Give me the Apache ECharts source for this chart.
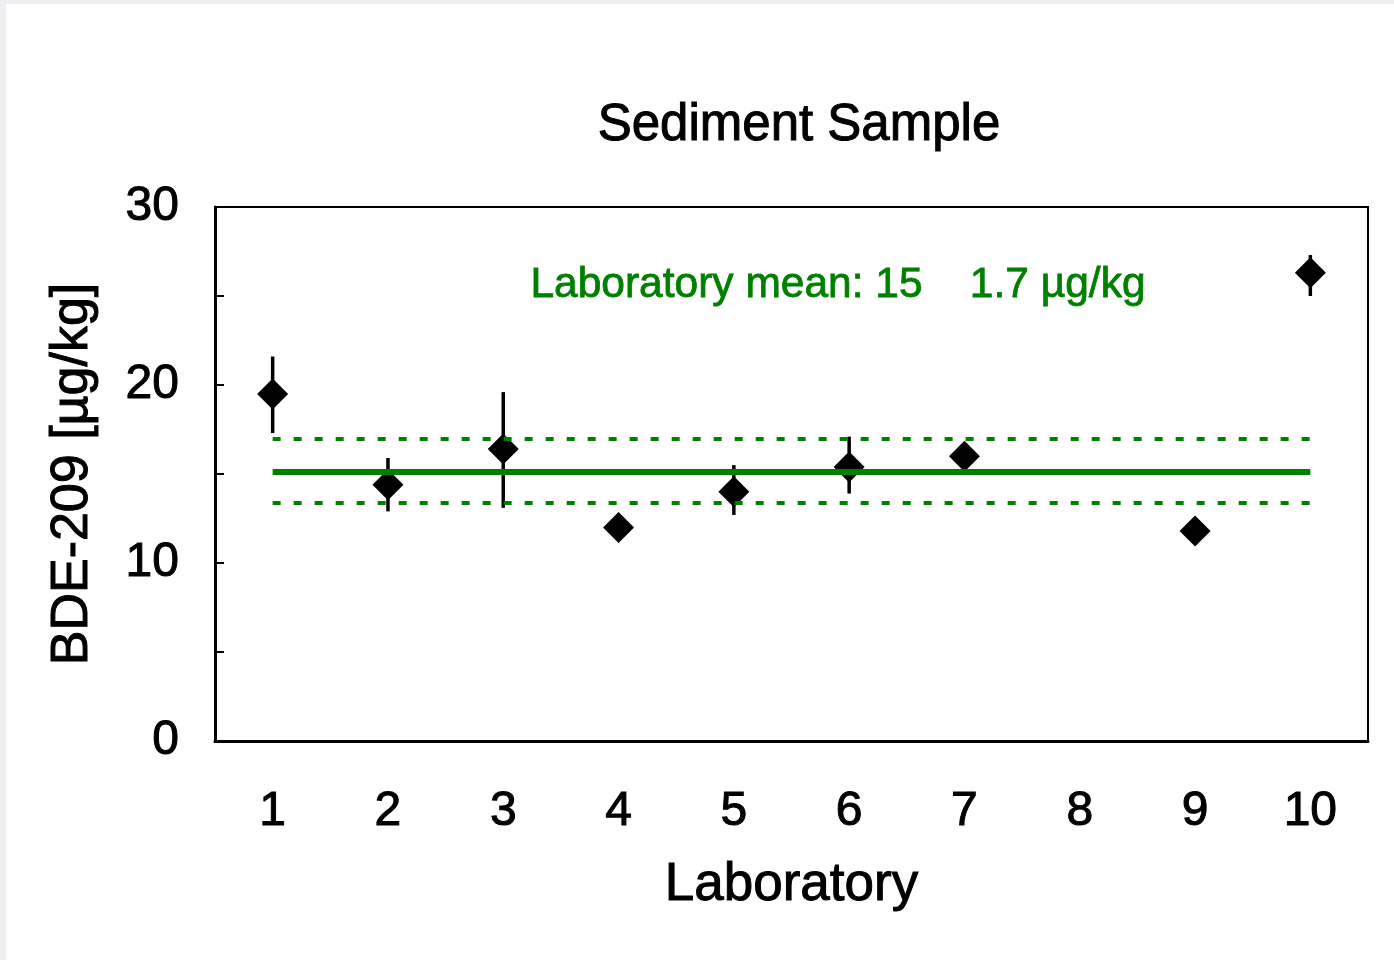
<!DOCTYPE html>
<html>
<head>
<meta charset="utf-8">
<title>Sediment Sample</title>
<script src="https://cdn.jsdelivr.net/npm/echarts@6/dist/echarts.min.js"></script>
<style>
  html, body { margin: 0; padding: 0; background: #eceef2; }
  #chart { position: absolute; left: 6px; top: 4px; width: 1388px; height: 956px; background: #fff; }
</style>
</head>
<body>
<div id="chart"></div>
<script>
// ---------- data ----------
const labs = ['1', '2', '3', '4', '5', '6', '7', '8', '9', '10'];
// lab result (µg/kg), lab 8 reported nothing
const labValues = [19.5, 14.4, 16.4, 12.0, 14.0, 15.4, 16.0, '-', 11.8, 26.3];
// uncertainty bars, null = no bar drawn
const errLow  = [17.3, 12.9, 13.1, null, 12.7, 13.9, null, null, null, 25.0];
const errHigh = [21.6, 15.9, 19.6, null, 15.5, 17.1, null, null, null, 27.3];
// consensus mean and its band
const labMean = 15.1;
const meanUpper = 17.0;
const meanLower = 13.4;
const yTicks = [0, 10, 20, 30];

const FONT = '"Liberation Sans", Arial, Helvetica, sans-serif';
const GREEN = '#008000';

// slightly heavier glyphs, the original text looks between regular and bold
function heavy(color, w) {
    return { textBorderColor: color, textBorderWidth: w };
}

// error bar items: [category index, low, high]
const errData = [];
labs.forEach(function (l, i) {
    if (errLow[i] != null && errHigh[i] != null) errData.push([i, errLow[i], errHigh[i]]);
});

function refLine(v, style) {
    return [
        { coord: [labs[0], v], lineStyle: style },
        { coord: [labs[labs.length - 1], v] }
    ];
}

const option = {
    animation: false,
    backgroundColor: '#fff',
    title: {
        text: 'Sediment Sample',
        left: 788,
        top: 91,
        textAlign: 'center',
        textStyle: Object.assign({ fontFamily: FONT, fontSize: 51, fontWeight: 'normal', color: '#000' }, heavy('#000', 1))
    },
    grid: {
        left: 209, right: 26, top: 203, bottom: 219,
        show: true, borderColor: '#000', borderWidth: 2, backgroundColor: 'transparent'
    },
    xAxis: {
        type: 'category',
        data: labs,
        boundaryGap: true,
        name: 'Laboratory',
        nameLocation: 'middle',
        nameGap: 118,
        nameTextStyle: Object.assign({ fontFamily: FONT, fontSize: 53, color: '#000' }, heavy('#000', 1)),
        axisLine: { lineStyle: { color: '#000', width: 3 } },
        axisTick: { inside: true, length: 10, lineStyle: { color: '#000', width: 2 } },
        axisLabel: Object.assign({ fontFamily: FONT, fontSize: 48, color: '#000', margin: 47 }, heavy('#000', 1)),
        splitLine: { show: false }
    },
    yAxis: {
        type: 'value',
        min: 0,
        max: 30,
        interval: 5,
        name: 'BDE-209 [µg/kg]',
        nameLocation: 'middle',
        nameGap: 116,
        nameTextStyle: Object.assign({ fontFamily: FONT, fontSize: 52, color: '#000' }, heavy('#000', 1)),
        axisLine: { show: true, lineStyle: { color: '#000', width: 3 } },
        axisTick: { show: true, inside: true, length: 9, lineStyle: { color: '#000', width: 2 } },
        axisLabel: Object.assign({
            fontFamily: FONT, fontSize: 48, color: '#000', margin: 36,
            formatter: function (v) { return yTicks.indexOf(v) >= 0 ? String(v) : ''; }
        }, heavy('#000', 1)),
        splitLine: { show: false }
    },
    graphic: [{
        type: 'text',
        left: 524,
        top: 259,
        style: {
            text: 'Laboratory mean: 15    1.7 µg/kg',
            fill: GREEN,
            stroke: GREEN,
            lineWidth: 0.8,
            font: 'normal 42.5px ' + FONT
        }
    }],
    series: [
        {
            // mean and band lines
            name: 'mean',
            type: 'line',
            data: [],
            z: 1,
            markLine: {
                silent: true,
                symbol: 'none',
                label: { show: false },
                data: [
                    refLine(labMean, { color: GREEN, width: 6, type: 'solid' }),
                    refLine(meanUpper, { color: GREEN, width: 4, type: [8, 13] }),
                    refLine(meanLower, { color: GREEN, width: 4, type: [8, 13] })
                ]
            }
        },
        {
            name: 'uncertainty',
            type: 'custom',
            z: 3,
            encode: { x: 0, y: [1, 2] },
            data: errData,
            renderItem: function (params, api) {
                const hi = api.coord([api.value(0), api.value(2)]);
                const lo = api.coord([api.value(0), api.value(1)]);
                return {
                    type: 'line',
                    shape: { x1: hi[0], y1: hi[1], x2: lo[0], y2: lo[1] },
                    style: { stroke: '#000', lineWidth: 3.5 }
                };
            }
        },
        {
            name: 'result',
            type: 'scatter',
            z: 4,
            symbol: 'diamond',
            symbolSize: 31,
            itemStyle: { color: '#000', opacity: 1 },
            data: labValues
        }
    ]
};

const myChart = echarts.init(document.getElementById('chart'));
myChart.setOption(option);
</script>
</body>
</html>
